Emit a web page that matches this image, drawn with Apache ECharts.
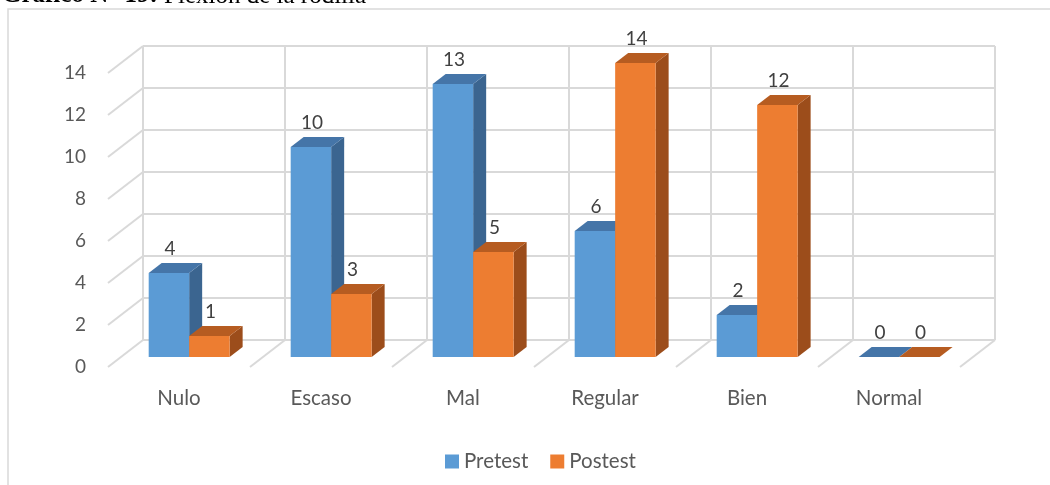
<!DOCTYPE html>
<html>
<head>
<meta charset="utf-8">
<style>
  html, body { margin: 0; padding: 0; background: #ffffff; }
  #chart { width: 1050px; height: 485px; }
</style>
<script src="https://cdn.jsdelivr.net/npm/echarts@6/dist/echarts.min.js"></script>
</head>
<body>
<div id="chart"></div>
<script>
// Flexión de la rodilla: pretest vs postest counts per rating
const categories = ['Nulo', 'Escaso', 'Mal', 'Regular', 'Bien', 'Normal'];
const pretest = [4, 10, 13, 6, 2, 0];
const postest = [1, 3, 5, 14, 12, 0];
const yTicks = [0, 2, 4, 6, 8, 10, 12, 14];
const seriesNames = ['Pretest', 'Postest'];
const titleBold = 'Gráfico N° 19:';
const titleText = 'Flexión de la rodilla';

// pseudo-3D projection (pixel offsets relative to the bars' front plane)
const BACK = [22, -17];     // back wall
const FRONT = [-13, 10];    // front edge of the floor
const DEPTH = [13, -10];    // bar depth
const GRID_COLOR = '#d9d9d9';
const FONT = 'Lato, "Open Sans", sans-serif';
const SERIF = '"Liberation Serif", serif';
const TITLE_SIZE = 25;

const palette = [
  { front: '#5b9bd5', top: '#4575a8', side: '#3b6590' },
  { front: '#ed7d31', top: '#b65c21', side: '#9c4d1b' }
];
// bar placement inside a category, as fraction of the band width
const BAR_START = -0.305;
const BAR_W = 0.285;

function line(x1, y1, x2, y2) {
  return {
    type: 'line',
    shape: { x1: x1, y1: y1, x2: x2, y2: y2 },
    style: { stroke: GRID_COLOR, lineWidth: 2 },
    silent: true
  };
}

function text(str, x, y, align, size, color) {
  return {
    type: 'text',
    silent: true,
    style: {
      text: str, x: x, y: y,
      align: align, verticalAlign: 'middle',
      textAlign: align, textVerticalAlign: 'middle',
      fill: color, fontSize: size, fontFamily: FONT
    }
  };
}

function renderFrame(params, api) {
  const w = api.size([1, 0])[0];
  const n = categories.length;
  const c0 = api.coord([0, 0]);
  const x0 = c0[0] - w / 2;
  const yTop = api.coord([0, yTicks[yTicks.length - 1]])[1];
  const yZero = c0[1];
  const kids = [];
  // back wall horizontal lines + left wall diagonals
  yTicks.forEach(function (v) {
    const y = api.coord([0, v])[1];
    kids.push(line(x0 + BACK[0], y + BACK[1], x0 + n * w + BACK[0], y + BACK[1]));
    kids.push(line(x0 + FRONT[0], y + FRONT[1], x0 + BACK[0], y + BACK[1]));
    kids.push(text(String(v), x0 + FRONT[0] - 22, y + FRONT[1], 'right', 19, '#595959'));
  });
  // back wall verticals and floor diagonals at category boundaries
  for (let k = 0; k <= n; k++) {
    const x = x0 + k * w;
    kids.push(line(x + BACK[0], yTop + BACK[1], x + BACK[0], yZero + BACK[1]));
    if (k > 0) {
      kids.push(line(x + FRONT[0], yZero + FRONT[1], x + BACK[0], yZero + BACK[1]));
    }
  }
  // category labels on the front edge
  categories.forEach(function (name, i) {
    const c = api.coord([i, 0]);
    kids.push(text(name, c[0] + FRONT[0], c[1] + 41, 'center', 20.5, '#595959'));
  });
  return { type: 'group', children: kids };
}

function makeBarRenderer(si) {
  const col = palette[si];
  return function (params, api) {
    const i = api.value(0);
    const v = api.value(1);
    const w = api.size([1, 0])[0];
    const base = api.coord([i, 0]);
    const top = api.coord([i, v]);
    const bw = BAR_W * w;
    const left = base[0] + (BAR_START + si * BAR_W) * w;
    const right = left + bw;
    const by = base[1];
    const ty = top[1];
    const dx = DEPTH[0], dy = DEPTH[1];
    const kids = [];
    if (by - ty > 0.5) {
      kids.push({ type: 'polygon', shape: { points: [[right, ty], [right + dx, ty + dy], [right + dx, by + dy], [right, by]] }, style: { fill: col.side } });
      kids.push({ type: 'rect', shape: { x: left, y: ty, width: bw, height: by - ty }, style: { fill: col.front } });
    }
    kids.push({ type: 'polygon', shape: { points: [[left, ty], [right, ty], [right + dx, ty + dy], [left + dx, ty + dy]] }, style: { fill: col.top } });
    kids.push(text(String(v), left + bw / 2 + 1, ty + dy - 14, 'center', 19, '#404040'));
    return { type: 'group', children: kids };
  };
}

function toData(values) {
  return values.map(function (v, i) { return [i, v]; });
}

// width of the bold caption prefix, so the plain part follows it
const measureCtx = document.createElement('canvas').getContext('2d');
measureCtx.font = 'bold ' + TITLE_SIZE + 'px ' + SERIF;
const boldWidth = measureCtx.measureText(titleBold + ' ').width;

const chart = echarts.init(document.getElementById('chart'), null, { renderer: 'canvas' });
chart.setOption({
  backgroundColor: '#ffffff',
  animation: false,
  grid: { left: 121, width: 852, top: 63, height: 294 },
  xAxis: { type: 'category', data: categories, show: false },
  yAxis: { type: 'value', min: 0, max: 14, interval: 2, show: false },
  legend: {
    data: seriesNames,
    left: 440, top: 446,
    icon: 'rect', itemWidth: 14, itemHeight: 14, itemGap: 22,
    textStyle: { fontSize: 20.5, fontFamily: FONT, color: '#595959' }
  },
  graphic: [
    {
      type: 'rect', silent: true,
      shape: { x: 8, y: 9, width: 1200, height: 700 },
      style: { fill: 'none', stroke: '#d9d9d9', lineWidth: 1.5 }
    },
    {
      type: 'text', silent: true, x: 2, y: -4,
      style: {
        text: titleBold, fontWeight: 'bold',
        verticalAlign: 'middle', textVerticalAlign: 'middle',
        fontFamily: SERIF, fontSize: TITLE_SIZE, fill: '#000'
      }
    },
    {
      type: 'text', silent: true, x: 2 + boldWidth, y: -4,
      style: {
        text: titleText,
        verticalAlign: 'middle', textVerticalAlign: 'middle',
        fontFamily: SERIF, fontSize: TITLE_SIZE, fill: '#000'
      }
    }
  ],
  series: [
    { type: 'custom', name: '__frame', silent: true, z: 1, data: [[0, 0]], renderItem: renderFrame, tooltip: { show: false } },
    { type: 'custom', name: seriesNames[0], z: 2, itemStyle: { color: palette[0].front }, data: toData(pretest), renderItem: makeBarRenderer(0) },
    { type: 'custom', name: seriesNames[1], z: 3, itemStyle: { color: palette[1].front }, data: toData(postest), renderItem: makeBarRenderer(1) }
  ]
});
</script>
</body>
</html>
